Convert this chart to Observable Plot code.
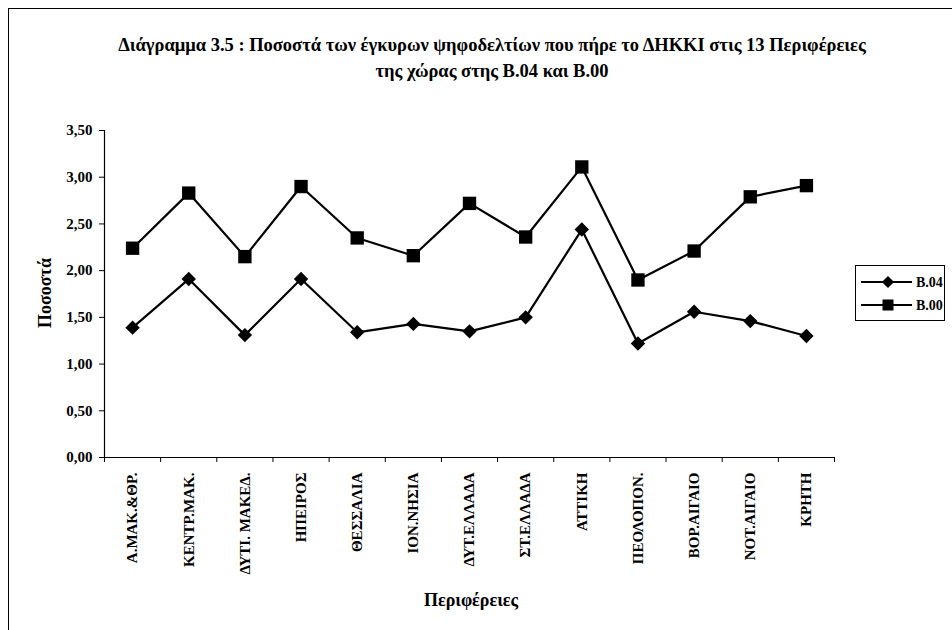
<!DOCTYPE html>
<html><head><meta charset="utf-8">
<script src="https://cdn.jsdelivr.net/npm/d3@7"></script>
<script src="https://cdn.jsdelivr.net/npm/@observablehq/plot@0.6"></script>
<style>
body{margin:0;background:#fff;}
#wrap{position:relative;width:952px;height:630px;overflow:hidden;font-family:"Liberation Serif","Times New Roman",serif;font-weight:bold;color:#000;background:#fff;}
#frame{position:absolute;left:8px;top:8px;width:1000px;height:700px;border:1px solid #000;box-sizing:border-box;}
#title{position:absolute;left:0;width:984px;top:32px;text-align:center;font-size:18.5px;line-height:26px;}
#ylab{position:absolute;left:45px;top:293px;transform:translate(-50%,-50%) rotate(-90deg);font-size:18px;white-space:nowrap;}
#xlab{position:absolute;left:471px;top:600px;transform:translate(-50%,-50%);font-size:18px;white-space:nowrap;}
#chart{position:absolute;left:0;top:0;}
#legend{position:absolute;left:855px;top:265px;width:90px;height:56px;border:1px solid #000;box-sizing:border-box;background:#fff;}
</style></head>
<body>
<div id="wrap">
  <div id="frame"></div>
  <div id="chart"></div>
  <div id="title">Διάγραμμα 3.5 : Ποσοστά των έγκυρων ψηφοδελτίων που πήρε το ΔΗΚΚΙ στις 13 Περιφέρειες<br>της χώρας στης Β.04 και Β.00</div>
  <div id="ylab">Ποσοστά</div>
  <div id="xlab">Περιφέρειες</div>
  <div id="legend"></div>
</div>
<script>
const categories = ["Α.ΜΑΚ.&ΘΡ.","ΚΕΝΤΡ.ΜΑΚ.","ΔΥΤΙ. ΜΑΚΕΔ.","ΗΠΕΙΡΟΣ","ΘΕΣΣΑΛΙΑ","ΙΟΝ.ΝΗΣΙΑ","ΔΥΤ.ΕΛΛΑΔΑ","ΣΤ.ΕΛΛΑΔΑ","ΑΤΤΙΚΗ","ΠΕΟΛΟΠΟΝ.","ΒΟΡ.ΑΙΓΑΙΟ","ΝΟΤ.ΑΙΓΑΙΟ","ΚΡΗΤΗ"];
const seriesNames = ["B.04","B.00"];
const b04 = [1.39, 1.91, 1.31, 1.91, 1.34, 1.43, 1.35, 1.50, 2.44, 1.22, 1.56, 1.46, 1.30];
const b00 = [2.24, 2.83, 2.15, 2.90, 2.35, 2.16, 2.72, 2.36, 3.11, 1.90, 2.21, 2.79, 2.91];
const yTicks = [0, 0.5, 1, 1.5, 2, 2.5, 3, 3.5];

const rows04 = categories.map((c, i) => ({pos: i + 0.5, cat: c, v: b04[i]}));
const rows00 = categories.map((c, i) => ({pos: i + 0.5, cat: c, v: b00[i]}));
const fmt = d => d3.format(".2f")(d).replace(".", ",");
const FONT = '"Liberation Serif","Times New Roman",serif';

const chart = Plot.plot({
  width: 952, height: 630,
  marginLeft: 104, marginRight: 118, marginTop: 130, marginBottom: 173,
  style: {fontFamily: FONT, fontWeight: "bold", fontSize: "15px", color: "#000", background: "transparent"},
  x: {domain: [0, categories.length]},
  y: {domain: [0, 3.5]},
  marks: [
    Plot.axisY({ticks: yTicks, tickSize: 5, tickPadding: 7, tickFormat: fmt, label: null, fontSize: 15}),
    Plot.axisX({ticks: d3.range(categories.length + 1), tickSize: 5, tickFormat: () => "", label: null}),
    Plot.ruleX([0], {strokeWidth: 1.2}),
    Plot.ruleY([0], {strokeWidth: 1.2}),
    Plot.text(categories, {x: (d, i) => i + 0.5, y: 0, text: d => d, rotate: -90, textAnchor: "end", lineAnchor: "middle", dy: 15, fontSize: 15}),
    Plot.line(rows04, {x: "pos", y: "v", stroke: "#000", strokeWidth: 2.2}),
    Plot.line(rows00, {x: "pos", y: "v", stroke: "#000", strokeWidth: 2.2}),
    Plot.dot(rows04, {x: "pos", y: "v", symbol: "diamond2", r: 6.5, fill: "#000", stroke: "none"}),
    Plot.dot(rows00, {x: "pos", y: "v", symbol: "square2", r: 8.5, fill: "#000", stroke: "none"})
  ]
});
document.getElementById("chart").appendChild(chart);

// legend
const lg = d3.select("#legend").append("svg").attr("width", 88).attr("height", 54);
const sym = [d3.symbol(d3.symbolDiamond2, Math.PI * 5.5 * 5.5), d3.symbol(d3.symbolSquare2, Math.PI * 7 * 7)];
seriesNames.forEach((name, k) => {
  const y = 16 + k * 23;
  lg.append("line").attr("x1", 5).attr("x2", 56).attr("y1", y).attr("y2", y).attr("stroke", "#000").attr("stroke-width", 2.2);
  lg.append("path").attr("d", sym[k]()).attr("transform", `translate(32,${y})`).attr("fill", "#000");
  lg.append("text").attr("x", 60).attr("y", y).attr("dy", "0.35em").attr("font-size", 14).attr("font-weight", "bold")
    .attr("font-family", FONT).text(name);
});
</script>
</body></html>
